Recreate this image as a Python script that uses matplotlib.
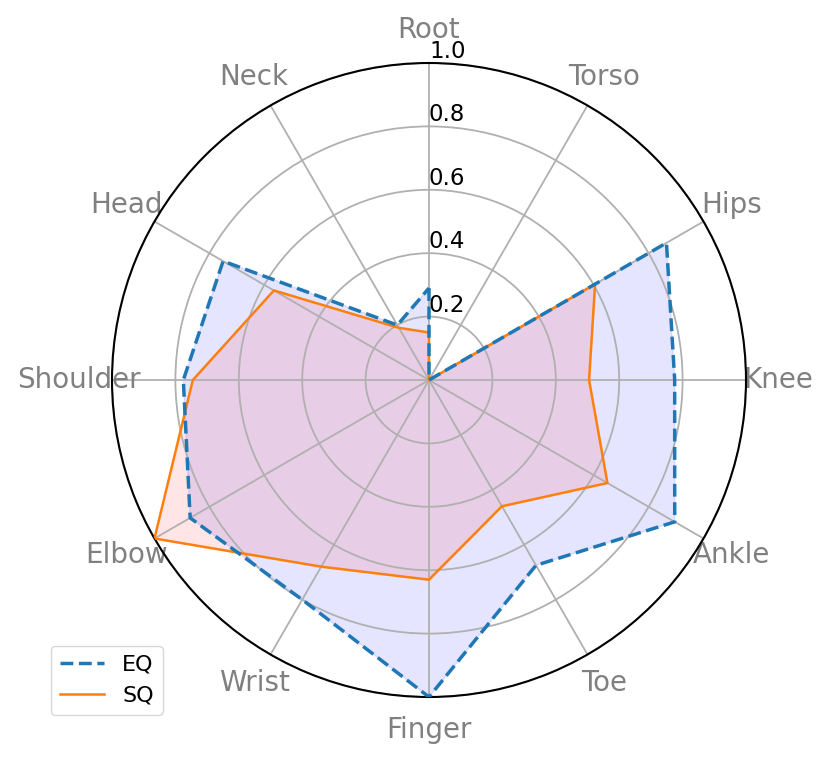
import numpy as np
import matplotlib
matplotlib.use("Agg")
import matplotlib.pyplot as plt

joints = ["Root", "Torso", "Hips", "Knee", "Ankle", "Toe",
          "Finger", "Wrist", "Elbow", "Shoulder", "Head", "Neck"]
eq = [0.29, 0.0, 0.865, 0.775, 0.895, 0.675, 1.0, 0.80, 0.87, 0.775, 0.75, 0.20]
sq = [0.15, 0.0, 0.605, 0.505, 0.65, 0.46, 0.63, 0.68, 1.0, 0.745, 0.565, 0.19]
rticks = [0.2, 0.4, 0.6, 0.8, 1.0]

angles = np.linspace(0, 2 * np.pi, len(joints), endpoint=False)
ang = np.concatenate([angles, angles[:1]])
eq_c = eq + eq[:1]
sq_c = sq + sq[:1]

fig = plt.figure(figsize=(8.31, 7.6), dpi=100)
ax = fig.add_axes([112 / 831, 63 / 760, 634 / 831, 634 / 760], polar=True)
ax.set_theta_offset(np.pi / 2)
ax.set_theta_direction(-1)

ax.plot(ang, eq_c, '--', color='tab:blue', linewidth=2.5, label='EQ', zorder=4)
ax.fill(ang, eq_c, color='b', alpha=0.1)
ax.plot(ang, sq_c, '-', color='tab:orange', linewidth=1.8, label='SQ', zorder=3)
ax.fill(ang, sq_c, color='r', alpha=0.1)

ax.set_thetagrids(np.degrees(angles), joints, color='grey', fontsize=20)
ax.tick_params(axis='x', pad=13)
ax.set_ylim(0, 1.0)
ax.set_rticks(rticks)
ax.set_yticklabels([str(t) for t in rticks], fontsize=16.5)
ax.set_rlabel_position(0)
ax.grid(color='#b0b0b0', linewidth=1.3)
ax.spines['polar'].set_linewidth(1.5)

fig.legend(loc='lower left', bbox_to_anchor=(0.048, 0.045), fontsize=16,
           handlelength=2.0)

plt.savefig("out.png")
